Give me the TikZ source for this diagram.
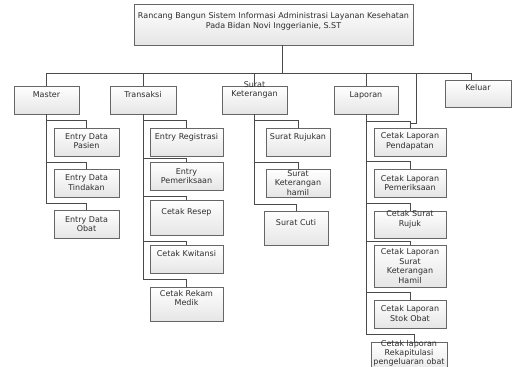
\documentclass[tikz,border=0pt]{standalone}
\usepackage{fontspec}
\setmainfont{DejaVu Sans}
\usetikzlibrary{shadows,calc}
\definecolor{linec}{HTML}{4A4A4A}
\definecolor{bordc}{HTML}{666666}
\definecolor{txc}{HTML}{2E2E2E}
\newcommand\bx[5]{\node[bx, minimum width={(#4-#2)*1pt}, minimum height={(#5-#3)*1pt}] (#1) at ({(#2+#4)/2},{(#3+#5)/2}) {};}
\newcommand\tx[4]{\node[tx] (#1) at (#2,#3) {#4};}
\newcommand\conn[3]{\draw[ln] (#1.south) |- ([yshift=#3pt]#2.north) -- (#2.north);}
\begin{document}
\begin{tikzpicture}[x=1pt,y=-1pt,
  bx/.style={draw=bordc, line width=0.65pt, top color=white, bottom color=black!10,
    drop shadow={shadow xshift=1pt,shadow yshift=-1pt,fill=black!18}, inner sep=0pt},
  tx/.style={text=txc, font=\fontsize{8}{9.7}\selectfont, align=center, inner sep=0pt},
  ln/.style={draw=linec, line width=0.65pt}]
\useasboundingbox[fill=white] (0,0) rectangle (512,367);
% boxes
\bx{top}{134}{4}{413}{45}
\bx{master}{14}{86}{79}{114}
\bx{trans}{110}{86}{176}{114}
\bx{surat}{222}{86}{287}{114}
\bx{lap}{334}{86}{398}{114}
\bx{kel}{445}{80}{511}{107}
\bx{pasien}{54}{128}{119}{156}
\bx{tind}{54}{169}{119}{197}
\bx{obat}{54}{210}{119}{238}
\bx{reg}{150}{128}{223}{156}
\bx{periks}{150}{162}{223}{190}
\bx{resep}{150}{200}{223}{235}
\bx{kwit}{150}{245}{223}{273}
\bx{rekam}{150}{287}{223}{321}
\bx{rujukan}{266}{128}{330}{156}
\bx{hamil}{266}{169}{330}{197}
\bx{cuti}{264}{211}{328}{245}
\bx{pend}{374}{128}{446}{156}
\bx{lperiks}{374}{169}{446}{197}
\bx{rujuk}{374}{211}{446}{238}
\bx{lhamil}{374}{245}{446}{287}
\bx{stok}{374}{300}{446}{328}
\bx{rekap}{371}{342}{447}{374}
% texts
\tx{ttop}{273.5}{21}{Rancang Bangun Sistem Informasi Administrasi Layanan Kesehatan\\Pada Bidan Novi Inggerianie, S.ST}
\tx{tmaster}{46.5}{95}{Master}
\tx{ttrans}{143}{95}{Transaksi}
\tx{tsurat}{254.5}{90}{Surat\\Keterangan}
\tx{tlap}{366}{95}{Laporan}
\tx{tkel}{478}{88}{Keluar}
\tx{tpasien}{86.5}{141}{Entry Data\\Pasien}
\tx{ttind}{86.5}{182.5}{Entry Data\\Tindakan}
\tx{tobat}{86.5}{224}{Entry Data\\Obat}
\tx{treg}{186.5}{137}{Entry Registrasi}
\tx{tperiks}{186.5}{176}{Entry\\Pemeriksaan}
\tx{tresep}{186.5}{212}{Cetak Resep}
\tx{tkwit}{186.5}{254}{Cetak Kwitansi}
\tx{trekam}{186.5}{298}{Cetak Rekam\\Medik}
\tx{trujukan}{298}{137}{Surat Rujukan}
\tx{thamil}{298}{183}{Surat\\Keterangan\\hamil}
\tx{tcuti}{296}{223}{Surat Cuti}
\tx{tpend}{410}{141.5}{Cetak Laporan\\Pendapatan}
\tx{tlperiks}{410}{183}{Cetak Laporan\\Pemeriksaan}
\tx{trujuk}{410}{219}{Cetak Surat\\Rujuk}
\tx{tlhamil}{410}{266}{Cetak Laporan\\Surat\\Keterangan\\Hamil}
\tx{tstok}{410}{313.5}{Cetak Laporan\\Stok Obat}
\node[tx, font=\fontsize{8}{9.2}\selectfont] (trekap) at (409,353) {Cetak laporan\\Rekapitulasi\\pengeluaran obat};
% connectors: top level
\coordinate (busL) at (47,73);
\coordinate (busR) at (471,73);
\coordinate (busT) at (282,73);
\coordinate (lx) at (416,73);
\coordinate (ljoin) at (410,123);
\draw[ln] (top.south -| busT) -- (busT);
\draw[ln] (busL) -- (busR);
\draw[ln] (master.north |- busL) -- (master.north);
\draw[ln] (trans.north |- busL) -- (trans.north);
\draw[ln] (surat.north |- busL) -- (surat.north);
\draw[ln] (lap.north |- busL) -- (lap.north);
\draw[ln] (busR) -- (kel.north -| busR);
\draw[ln] (lx) |- (ljoin);
% children
\conn{master}{pasien}{7}
\conn{master}{tind}{6}
\conn{master}{obat}{6}
\conn{trans}{reg}{7}
\conn{trans}{periks}{3}
\conn{trans}{resep}{3}
\conn{trans}{kwit}{3}
\conn{trans}{rekam}{7}
\conn{surat}{rujukan}{7}
\conn{surat}{hamil}{6}
\conn{surat}{cuti}{6}
\conn{lap}{pend}{6}
\conn{lap}{lperiks}{7}
\conn{lap}{rujuk}{7}
\conn{lap}{lhamil}{3}
\conn{lap}{stok}{7}
\draw[ln] (lap.south) |- ([xshift=5pt,yshift=7pt]rekap.north) -- ([xshift=5pt]rekap.north);
\end{tikzpicture}
\end{document}
